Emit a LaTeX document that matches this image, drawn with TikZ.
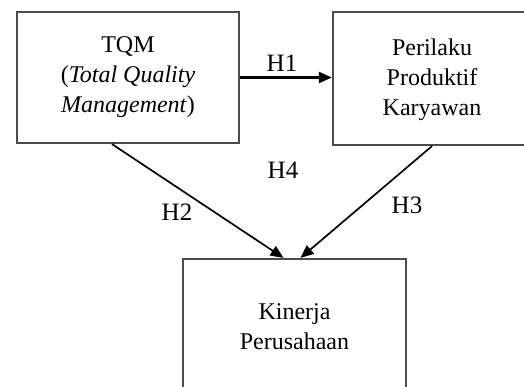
\documentclass[tikz,border=0pt]{standalone}
\usepackage{fontspec}
\setmainfont{Liberation Serif}
\usetikzlibrary{arrows.meta}

\begin{document}
\begin{tikzpicture}[x=1pt, y=-1pt,
        kotak/.style={draw=black!70, line width=2.2pt, align=center, inner sep=0pt},
        teks/.style={font=\fontsize{24}{30}\selectfont},
        label/.style={font=\fontsize{25}{30}\selectfont},
        panah/.style={line width=1.7pt, -{Triangle[length=13pt,width=11pt]}}]
            \clip (0,0) rectangle (524,387);

            \node[kotak, teks, minimum width=222pt, minimum height=131pt] (tqm) at (128,77.5)
                {TQM\\(\textit{Total Quality}\\\textit{Management})};
            \node[kotak, teks, minimum width=220pt, minimum height=133pt] (ppk) at (443,78.5)
                {};
            \node[teks, align=center] (ppkteks) at (432,80) {Perilaku\\Produktif\\Karyawan};
            \node[kotak, teks, minimum width=223pt, minimum height=136pt] (kin) at (294.5,327)
                {Kinerja\\Perusahaan};

            \draw[panah, line width=2.2pt] (tqm.east) -- (tqm.east -| ppk.west);
            \draw[panah] ([xshift=-16pt]tqm.south) -- ([xshift=-11pt]kin.north);
            \draw[panah] ([xshift=-11pt]ppk.south) -- ([xshift=6pt]kin.north);

            \node[label] (h1) at (282,63) {H1};
            \node[label] (h4) at (283,170) {H4};
            \node[label] (h2) at (177,212) {H2};
            \node[label] (h3) at (407,205) {H3};
        \end{tikzpicture}
\end{document}
